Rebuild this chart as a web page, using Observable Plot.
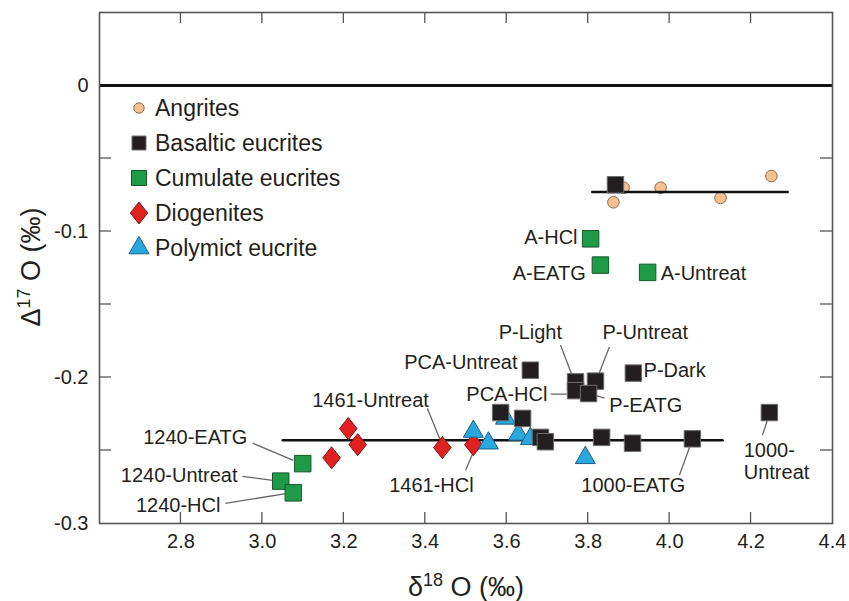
<!DOCTYPE html>
<html><head><meta charset="utf-8">
<script src="https://cdn.jsdelivr.net/npm/d3@7"></script>
<script src="https://cdn.jsdelivr.net/npm/@observablehq/plot@0.6"></script>
<style>
body{margin:0;background:#fff;}
#wrap{position:relative;width:849px;height:601px;font-family:"Liberation Sans",Arial,sans-serif;color:#231f20;}
#overlay{position:absolute;left:0;top:0;pointer-events:none;}
</style></head><body><div id="wrap"></div>
<script>
// ---- data (δ18O, Δ17O) ----
const angrites = [[3.887,-0.070],[3.862,-0.080],[3.978,-0.070],[4.125,-0.077],[4.250,-0.062]];
const basaltic = [[3.867,-0.068],[3.658,-0.195],[3.769,-0.203],[3.769,-0.209],[3.818,-0.2025],[3.801,-0.211],
  [3.911,-0.197],[3.585,-0.224],[3.639,-0.228],[3.683,-0.241],[3.695,-0.244],[3.833,-0.241],[3.909,-0.245],
  [4.056,-0.242],[4.245,-0.224]];
const cumulate = [[3.806,-0.105],[3.830,-0.123],[3.946,-0.128],[3.099,-0.259],[3.045,-0.271],[3.076,-0.279]];
const diogenites = [[3.211,-0.235],[3.234,-0.246],[3.170,-0.255],[3.442,-0.248],[3.518,-0.246]];
const polymict = [[3.518,-0.237],[3.555,-0.245],[3.597,-0.228],[3.629,-0.239],[3.658,-0.242],[3.793,-0.255]];
const angriteLine = [[3.81,-0.073],[4.29,-0.073]];
const eucriteLine = [[3.05,-0.243],[4.13,-0.243]];

const xTickMarks = [2.8,3.0,3.2,3.4,3.6,3.8,4.0,4.2];
const xTickLabels = [2.8,3.0,3.2,3.4,3.6,3.8,4.0,4.2,4.4];
const yTickMarks = [-0.25,-0.2,-0.15,-0.1,-0.05];
const yTickLabels = [-0.3,-0.2,-0.1,0];

const legendNames = ["Angrites","Basaltic eucrites","Cumulate eucrites","Diogenites","Polymict eucrite"];

// annotation labels: text, anchor point, alignment
const labelText = ["A-HCl","A-EATG","A-Untreat","P-Light","P-Untreat","PCA-Untreat","P-Dark","PCA-HCl","P-EATG",
  "1000-EATG","1000-\nUntreat","1461-Untreat","1461-HCl","1240-EATG","1240-Untreat","1240-HCl"];
const labelX = [3.774,3.794,3.978,3.658,3.835,3.6265,3.936,3.700,3.852,3.911,4.182,3.2655,3.415,2.963,2.939,2.897];
const labelY = [-0.1036,-0.1283,-0.1283,-0.1688,-0.169,-0.1895,-0.195,-0.2114,-0.219,-0.2739,-0.2573,-0.2155,-0.2739,-0.2409,-0.267,-0.2876];
const labelAlign = ["end","end","start","middle","start","end","start","end","start","middle","start","middle","middle","end","end","end"];
// leader lines
const leaderX1 = [3.732,3.852,3.708,3.840,4.049,4.240,3.405,3.499,2.976,2.951,2.909];
const leaderY1 = [-0.1778,-0.1791,-0.2114,-0.2141,-0.2478,-0.2292,-0.221,-0.2636,-0.245,-0.2677,-0.2862];
const leaderX2 = [3.762,3.825,3.747,3.806,4.024,4.228,3.437,3.518,3.076,3.025,3.062];
const leaderY2 = [-0.1997,-0.1984,-0.2114,-0.2114,-0.267,-0.2395,-0.243,-0.2512,-0.2567,-0.2704,-0.2793];

// ---- styles ----
const C = {
  ang: {fill:"#f6c08f", stroke:"#8a6a50"},
  bas: {fill:"#231f20", stroke:"#6d6e70"},
  cum: {fill:"#1f9b48", stroke:"#15572b"},
  dio: {fill:"#e0211f", stroke:"#7e1515"},
  pol: {fill:"#29a8e0", stroke:"#1d5f8a"}
};
const diamondSym = {draw(ctx, size){const ratio=0.8;const h=Math.sqrt(size/(2*ratio));const w=h*ratio;
  ctx.moveTo(0,-h);ctx.lineTo(w,0);ctx.lineTo(0,h);ctx.lineTo(-w,0);ctx.closePath();}};

const W = 849, H = 601, mL = 99, mR = 17, mT = 12, mB = 78;
const tickLen = 11;

const labels = labelText.map((t,i)=>({t, x:labelX[i], y:labelY[i], a:labelAlign[i]}));
const leaders = leaderX1.map((x,i)=>({x1:x, y1:leaderY1[i], x2:leaderX2[i], y2:leaderY2[i]}));
const px = d=>d[0], py = d=>d[1];
const labelMarks = ["start","middle","end"].map(a =>
  Plot.text(labels.filter(d=>d.a===a), {x:"x", y:"y", text:"t", textAnchor:a, fontSize:20, fill:"#231f20", lineHeight:1.1}));

const plot = Plot.plot({
  width: W, height: H,
  marginLeft: mL, marginRight: mR, marginTop: mT, marginBottom: mB,
  x: {domain:[2.6,4.4]},
  y: {domain:[-0.3,0.05]},
  style: {fontFamily:'"Liberation Sans",Arial,sans-serif', fontSize:"20px", background:"white", color:"#231f20", overflow:"visible"},
  marks: [
    Plot.axisX({anchor:"bottom", ticks:xTickLabels, tickSize:0, tickPadding:10, tickFormat:d=>d.toFixed(1), fontSize:20, fill:"#231f20", label:null}),
    Plot.axisY({anchor:"left", ticks:yTickLabels, tickSize:0, tickPadding:11, tickFormat:d=>d===0?"0":d.toFixed(1), fontSize:20, fill:"#231f20", label:null}),
    Plot.ruleY([0], {stroke:"#111", strokeWidth:3}),
    Plot.link(leaders, {x1:"x1", y1:"y1", x2:"x2", y2:"y2", stroke:"#666", strokeWidth:1.3}),
    ...labelMarks,
    Plot.dot(angrites, {x:px, y:py, r:5.8, symbol:"circle", fill:C.ang.fill, stroke:C.ang.stroke, strokeWidth:1}),
    Plot.line(angriteLine, {x:px, y:py, stroke:"#111", strokeWidth:2.5}),
    Plot.line(eucriteLine, {x:px, y:py, stroke:"#111", strokeWidth:2.5}),
    Plot.dot(cumulate, {x:px, y:py, r:9.3, symbol:"square", fill:C.cum.fill, stroke:C.cum.stroke, strokeWidth:1}),
    Plot.dot(diogenites, {x:px, y:py, r:7.85, symbol:diamondSym, fill:C.dio.fill, stroke:C.dio.stroke, strokeWidth:1}),
    Plot.dot(polymict, {x:px, y:py, r:7.4, symbol:"triangle", fill:C.pol.fill, stroke:C.pol.stroke, strokeWidth:1}),
    Plot.dot(basaltic, {x:px, y:py, r:9.3, symbol:"square", fill:C.bas.fill, stroke:C.bas.stroke, strokeWidth:1}),
    Plot.frame({stroke:"#555", strokeWidth:1.6})
  ]
});
const wrap = document.getElementById("wrap");
wrap.appendChild(plot);

// ---- inward tick marks, placed with the plot's own scales ----
const sx = plot.scale("x"), sy = plot.scale("y");
const X = v => sx.apply(v), Y = v => sy.apply(v);
const ov = d3.select(wrap).append("svg").attr("id","overlay").attr("width",W).attr("height",H)
  .attr("font-family",'"Liberation Sans",Arial,sans-serif').attr("fill","#231f20");
const tg = ov.append("g").attr("stroke","#555").attr("stroke-width",1.3);
const yBot = Y(-0.3), yTop = Y(0.05), xL = X(2.6), xR = X(4.4);
xTickMarks.forEach(v=>{
  tg.append("line").attr("x1",X(v)).attr("x2",X(v)).attr("y1",yBot).attr("y2",yBot - tickLen);
  tg.append("line").attr("x1",X(v)).attr("x2",X(v)).attr("y1",yTop).attr("y2",yTop + tickLen);
});
yTickMarks.forEach(v=>{
  tg.append("line").attr("y1",Y(v)).attr("y2",Y(v)).attr("x1",xL).attr("x2",xL + tickLen + 1);
  tg.append("line").attr("y1",Y(v)).attr("y2",Y(v)).attr("x1",xR).attr("x2",xR - tickLen - 1);
});

// ---- legend + axis titles ----
const legSyms = [
  {sym:d3.symbolCircle, size:85, c:C.ang},
  {sym:d3.symbolSquare, size:196, c:C.bas},
  {sym:d3.symbolSquare, size:225, c:C.cum},
  {sym:diamondSym, size:190, c:C.dio},
  {sym:d3.symbolTriangle, size:175, c:C.pol}
];
legendNames.forEach((name,i)=>{
  const cy = 108 + i*35;
  ov.append("path").attr("d", d3.symbol(legSyms[i].sym, legSyms[i].size)())
    .attr("transform",`translate(139,${cy})`).attr("fill",legSyms[i].c.fill).attr("stroke",legSyms[i].c.stroke).attr("stroke-width",1);
  ov.append("text").attr("x",155).attr("y",cy).attr("dy","0.35em").attr("font-size",23).text(name);
});
const xt = ov.append("text").attr("x",466).attr("y",596).attr("text-anchor","middle").attr("font-size",27);
xt.append("tspan").text("δ");
xt.append("tspan").attr("dy",-10).attr("font-size",18).text("18");
xt.append("tspan").attr("dy",10).text(" O (‰)");
const yt = ov.append("text").attr("transform","translate(40,267) rotate(-90)").attr("text-anchor","middle").attr("font-size",27);
yt.append("tspan").text("Δ");
yt.append("tspan").attr("dy",-10).attr("font-size",18).text("17");
yt.append("tspan").attr("dy",10).text(" O (‰)");
</script></body></html>
